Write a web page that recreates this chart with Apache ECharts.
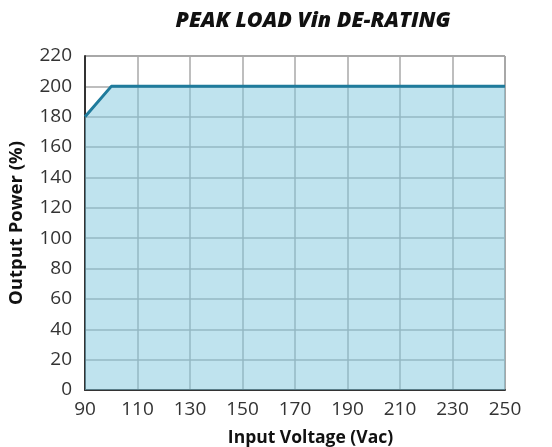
<!DOCTYPE html>
<html>
<head>
<meta charset="utf-8">
<script src="https://cdn.jsdelivr.net/npm/echarts@6/dist/echarts.min.js"></script>
<style>
  html, body { margin: 0; padding: 0; background: #fff; }
  #chart { width: 552px; height: 447px; }
</style>
</head>
<body>
<div id="chart"></div>
<script>
// Peak load de-rating vs input voltage
var voltage = [90, 100, 250]
var power = [180, 200, 200]
var xTicks = [90, 110, 130, 150, 170, 190, 210, 230, 250]
var yTicks = [0, 20, 40, 60, 80, 100, 120, 140, 160, 180, 200, 220]

var chart = echarts.init(document.getElementById('chart'))

var font = '"Open Sans", "Noto Sans", sans-serif'

var option = {
  animation: false,
  title: {
    text: 'PEAK LOAD Vin DE-RATING',
    left: 308,
    textAlign: 'center',
    top: 5,
    textStyle: {
      fontFamily: font,
      fontSize: 21.5,
      fontWeight: 900,
      fontStyle: 'italic',
      color: '#111'
    }
  },
  grid: {
    left: 85,
    right: 47,
    top: 56,
    bottom: 57,
    containLabel: false,
    outerBoundsMode: 'none',
    show: true,
    borderColor: '#555',
    borderWidth: 1
  },
  xAxis: {
    type: 'value',
    min: xTicks[0],
    max: xTicks[xTicks.length - 1],
    interval: 20,
    name: 'Input Voltage (Vac)',
    nameLocation: 'middle',
    nameGap: 39,
    nameTextStyle: { fontFamily: font, fontSize: 17.5, fontWeight: 'bold', color: '#111', padding: [0, 0, 0, 31] },
    axisLine: { lineStyle: { color: '#333', width: 2 } },
    axisTick: { show: false },
    axisLabel: { fontFamily: font, fontSize: 19, color: '#333', margin: 10 },
    splitLine: { lineStyle: { color: '#a9a9a9', width: 1.5 } }
  },
  yAxis: {
    type: 'value',
    min: yTicks[0],
    max: yTicks[yTicks.length - 1],
    interval: 20,
    name: 'Output Power (%)',
    nameLocation: 'middle',
    nameGap: 59,
    nameTextStyle: { fontFamily: font, fontSize: 18.5, fontWeight: 'bold', color: '#111' },
    axisLine: { show: true, lineStyle: { color: '#333', width: 2 } },
    axisTick: { show: false },
    axisLabel: { fontFamily: font, fontSize: 19, color: '#333', margin: 13 },
    splitLine: { lineStyle: { color: '#a9a9a9', width: 1.5 } }
  },
  series: [{
    type: 'line',
    data: voltage.map(function (v, i) { return [v, power[i]] }),
    symbol: 'none',
    lineStyle: { color: '#1f7b9c', width: 3 },
    areaStyle: { color: '#7fc8de', opacity: 0.5 }
  }]
}

chart.setOption(option)
</script>
</body>
</html>
